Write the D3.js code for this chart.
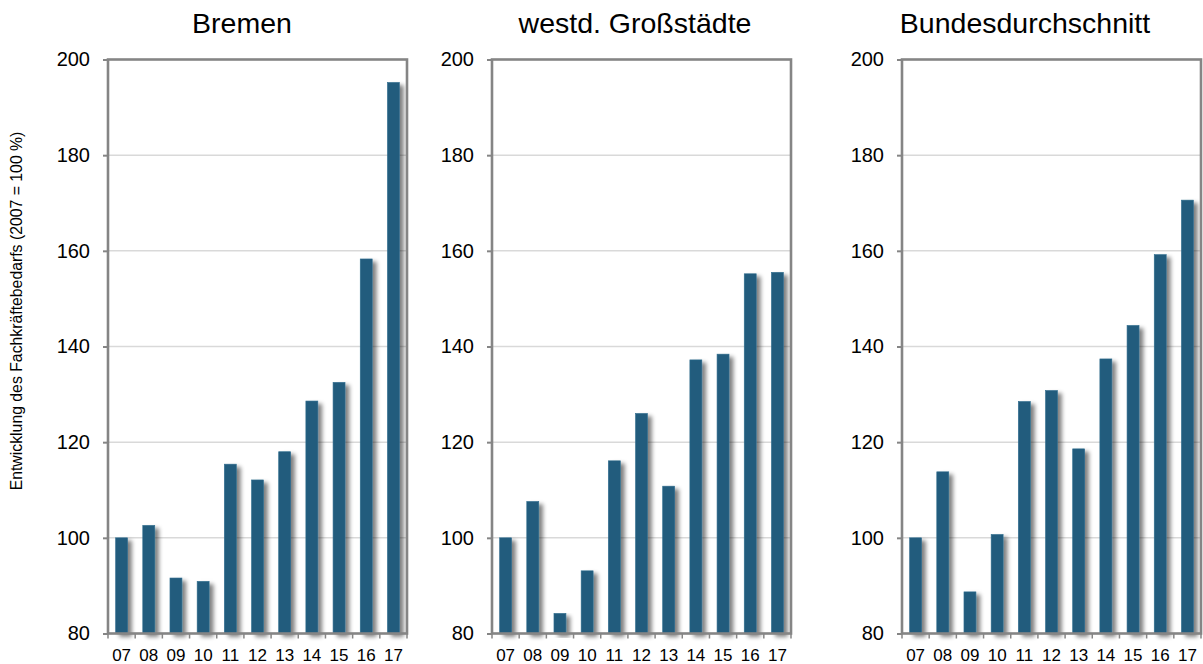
<!DOCTYPE html>
<html><head><meta charset="utf-8">
<script src="https://cdn.jsdelivr.net/npm/d3@7"></script>
<style>
html,body{margin:0;padding:0;background:#fff;}
text{font-family:"Liberation Sans",Arial,sans-serif;fill:#000;}
</style></head>
<body>
<svg id="chart" width="1203" height="664"></svg>
<script>
// ---- data ----
const years = ["07","08","09","10","11","12","13","14","15","16","17"];
const panelTitles = ["Bremen","westd. Großstädte","Bundesdurchschnitt"];
const bremen      = [100.0,102.6,91.6,90.9,115.4,112.1,118.0,128.6,132.5,158.3,195.2];
const westd       = [100.0,107.6,84.2,93.1,116.1,126.0,110.8,137.2,138.4,155.2,155.5];
const bund        = [100.0,113.8,88.7,100.7,128.5,130.8,118.6,137.4,144.4,159.2,170.6];
const yTicks      = [80,100,120,140,160,180,200];
const yAxisTitle  = "Entwicklung des Fachkräftebedarfs (2007 = 100 %)";

const series = [bremen, westd, bund];

// ---- layout ----
const panelLeft = [108, 492, 902];
const panelW = 299;
const plotTop = 59.5, plotBottom = 633.5;
const titleX = [242, 635, 1025];
const barColor = "#235b7d";

const svg = d3.select("#chart");
const defs = svg.append("defs");
const f = defs.append("filter").attr("id","shadow").attr("x","-50%").attr("y","-10%").attr("width","250%").attr("height","130%");
f.append("feGaussianBlur").attr("in","SourceAlpha").attr("stdDeviation",2).attr("result","b");
f.append("feOffset").attr("in","b").attr("dx",3.5).attr("dy",2.5).attr("result","o");
f.append("feComponentTransfer").attr("in","o").attr("result","o2")
  .append("feFuncA").attr("type","linear").attr("slope",0.5);
const m = f.append("feMerge");
m.append("feMergeNode").attr("in","o2");
m.append("feMergeNode").attr("in","SourceGraphic");

const y = d3.scaleLinear().domain([80,200]).range([plotBottom, plotTop]);

series.forEach((vals, i) => {
  const L = panelLeft[i];
  const g = svg.append("g");
  const x = d3.scaleBand().domain(years).range([L, L + panelW]).paddingInner(0.56).paddingOuter(0.28);

  // gridlines
  g.selectAll("line.grid").data(yTicks.filter(t => t > 80 && t < 200)).enter().append("line")
    .attr("x1", L).attr("x2", L + panelW)
    .attr("y1", d => y(d)).attr("y2", d => y(d))
    .attr("stroke", "#d9d9d9").attr("stroke-width", 1.5);

  // bars
  g.selectAll("rect.bar").data(vals).enter().append("rect")
    .attr("x", (d, j) => x(years[j]))
    .attr("width", x.bandwidth())
    .attr("y", d => y(d))
    .attr("height", d => y(80) - y(d))
    .attr("fill", barColor)
    .attr("stroke", "#2e6d8e").attr("stroke-width", 0.6)
    .attr("filter", "url(#shadow)");

  // frame
  g.append("rect").attr("x", L).attr("y", plotTop).attr("width", panelW).attr("height", plotBottom - plotTop)
    .attr("fill", "none").attr("stroke", "#858585").attr("stroke-width", 2.6);

  // y axis
  const ya = d3.axisLeft(y).tickValues(yTicks).tickSize(5).tickPadding(13).tickFormat(d3.format("d"));
  const yg = svg.append("g").attr("transform", `translate(${L},0)`).call(ya);
  yg.select(".domain").remove();
  yg.selectAll(".tick line").attr("stroke", "#858585").attr("stroke-width", 2);
  yg.selectAll(".tick text").attr("font-size", 20).attr("font-family", '"Liberation Sans",Arial,sans-serif').attr("fill", "#000");

  // x axis ticks at category boundaries
  const step = x.step();
  const bounds = d3.range(years.length + 1).map(k => L + k * step);
  g.selectAll("line.xt").data(bounds).enter().append("line")
    .attr("x1", d => d).attr("x2", d => d)
    .attr("y1", plotBottom).attr("y2", plotBottom + 5)
    .attr("stroke", "#858585").attr("stroke-width", 1.5);
  g.selectAll("text.xl").data(years).enter().append("text")
    .attr("x", d => x(d) + x.bandwidth() / 2)
    .attr("y", 661)
    .attr("text-anchor", "middle")
    .attr("font-size", 17)
    .text(d => d);

  // title
  svg.append("text").attr("x", titleX[i]).attr("y", 33)
    .attr("text-anchor", "middle").attr("font-size", 28.5)
    .text(panelTitles[i]);
});

// y axis title
svg.append("text")
  .attr("transform", "translate(22,311) rotate(-90)")
  .attr("text-anchor", "middle")
  .attr("font-size", 15.8)
  .text(yAxisTitle);
</script>
</body></html>
